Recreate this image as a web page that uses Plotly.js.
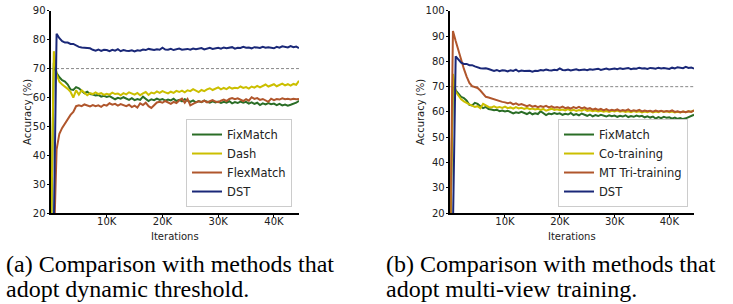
<!DOCTYPE html>
<html>
<head>
<meta charset="utf-8">
<script src="https://cdn.plot.ly/plotly-3.0.1.min.js"></script>
<style>
  html, body { margin: 0; padding: 0; background: #fff; }
  #chart { width: 733px; height: 304px; }
</style>
</head>
<body>
<div id="chart"></div>
<script>
// ---- data ----
const iterations = [0,500,1000,1500,2000,2500,3000,3500,4000,4500,5000,5500,6000,6500,7000,7500,8000,8500,9000,9500,
  10000,10500,11000,11500,12000,12500,13000,13500,14000,14500,15000,15500,16000,16500,17000,17500,18000,18500,19000,19500,
  20000,20500,21000,21500,22000,22500,23000,23500,24000,24500,25000,25500,26000,26500,27000,27500,28000,28500,29000,29500,
  30000,30500,31000,31500,32000,32500,33000,33500,34000,34500,35000,35500,36000,36500,37000,37500,38000,38500,39000,39500,
  40000,40500,41000,41500,42000,42500,43000,43500,44000,44500];

const fixmatch = [10,72,68.5,67,66,65.5,64.5,62.8,62.6,63.6,63.2,62.3,61.5,62,61.2,61,60.7,60.9,60.3,60.6,
  60.2,60.5,59.8,59.4,59.9,59.6,60.1,59.7,59.2,59.8,59.1,59.5,59.2,60.3,59.6,58.8,59.4,59.1,59.6,59.2,
  59.5,58.9,59.3,59,59.6,58.8,59.2,58.7,59.4,58.9,58.5,59,58.3,58.8,58.4,58.9,58.6,58.2,58.7,58.3,
  58.6,58.1,58.5,58.2,58.7,58,58.4,58.1,58.6,58.2,58.5,57.9,58.3,57.8,58.2,57.4,58,57.6,58.1,57.7,
  57.9,57.4,57.8,57.3,57.6,57.2,57.5,57.9,58.2,58.9];

const dash = [10,76,68,65.5,64.5,63.8,63,62,60,62.5,61,62.5,61.5,60.8,61.5,61.2,61.8,61.2,61.5,60.9,
  61.3,61,61.7,61.2,61.4,60.8,61.5,61.1,61.8,61.3,61,61.6,60.8,61.4,61.9,60.9,61.7,61.4,62.1,61.6,
  62.2,61.8,61.4,62,61.6,62.3,61.9,62.4,61.8,62.5,62.2,62.9,62.3,61.9,62.6,62.2,62.8,63.2,62.6,63,
  63.5,62.8,63.3,62.9,63.6,63.1,63.4,63.2,63.8,63.3,63.6,63.1,63.8,63.4,64,63.5,63.9,64.5,63.8,64.2,
  64.6,63.9,64.3,64.8,64.2,64.6,64.1,64.7,64.4,65.8];

const flexmatch = [5,8,42,47.5,49.5,51,52.5,54,55,57,57.3,57,57.6,57.2,56.9,57.4,57,57.3,56.8,57.5,
  57.2,58,57.5,57.8,57.2,57.7,57.3,57,57.5,56.7,57.2,56.5,58,57.4,58.2,57,56.4,57.5,58.3,58.5,
  58.2,58.8,58.4,57.8,58.5,58.1,59,59.6,58.2,59.5,57.3,57.9,58.3,58.7,58.5,58.9,58.3,58.7,59.1,58.6,
  58.4,58.9,59.3,58.8,59.5,59.8,59.4,59.7,59.2,58.8,59.4,58.9,60.1,59.5,59.8,59.2,59.5,58.9,58.5,59.6,
  59.1,59.5,59.3,59.7,59.4,59.6,59.3,59.6,59.4,59.5];

const dst = [5,15,82,80.5,79.5,79,79,78.5,78.5,78,77.5,77.3,77.2,77.3,77,76.5,76.2,76.6,76.1,76.5,
  76.4,76,76.5,76.2,76.7,76,76.4,76.2,76.1,76.3,75.9,76.3,76.2,76.6,76.4,76.8,76.5,76.4,76.7,76.5,
  77.2,76.6,76.5,76.8,76.4,76.7,76.9,76.5,76.6,76.8,76.5,76.9,76.7,76.8,77.1,76.6,76.9,77.2,76.8,77,
  77.2,76.9,77.3,77,77.1,77.4,76.9,77.2,77.1,77.5,77.2,77.3,77,77.4,77.3,77.1,77.5,77.2,77.4,77.3,
  77,77.5,77.2,77.7,77.4,77.3,77.8,77.4,77.6,77.1];

const cotraining = [10,75,68,66.5,65,64.2,63.5,63,62.5,62,62.3,61.5,63.2,62.5,62,61.8,62.2,61.7,62,61.6,
  62.1,61.5,61.8,61.3,61.9,61.4,61.7,61.2,61.6,61.1,61.4,61,61.3,60.8,61.2,60.5,60.9,61.3,60.8,61.1,
  60.7,61,60.6,61.1,60.5,60.9,60.4,60.8,60.5,61,60.4,60.7,60.3,60.6,60.2,60.5,60.1,60.4,60,60.5,
  60.2,60.6,60.1,60.4,60,60.3,59.9,60.4,60,60.3,59.8,60.2,59.9,60.3,59.8,60.2,59.9,60.4,60,60.3,
  59.9,60.2,59.8,60.1,59.8,60.2,59.9,60.3,60.1,60.6];

const mttri = [10,92,88,84,80,77,74,71.5,70.2,69.8,69.5,68.5,67,66,65.7,65.3,65,64.6,64.2,64,
  63.8,63.5,63.7,63,63.4,62.8,63.1,62.6,62.3,62.7,62.1,62.4,61.9,62.3,62,62.4,61.8,62.2,61.7,62,
  61.6,62.1,61.5,61.8,61.3,61.9,61.5,62,61.4,61.8,61.2,61.5,60.9,61.3,60.8,61.2,60.6,61.1,60.5,60.9,
  60.6,61,60.4,60.8,60.5,61,60.3,60.7,60.4,60.8,60.2,60.6,60.3,60.5,60.1,60.6,60.2,60.5,60.1,60.4,
  60.2,60.6,60,60.3,59.9,60.2,59.9,60.3,60,60.6];

const threshold = 70;
const xTickVals = [10000, 20000, 30000, 40000];
const xTickText = ['10K', '20K', '30K', '40K'];
const yTicksLeft = [20, 30, 40, 50, 60, 70, 80, 90];
const yTicksRight = [20, 30, 40, 50, 60, 70, 80, 90, 100];
const xTitle = 'Iterations';
const yTitle = 'Accuracy (%)';
const captionA = ['(a) Comparison with methods that', 'adopt dynamic threshold.'];
const captionB = ['(b) Comparison with methods that', 'adopt multi-view training.'];

// ---- styles ----
const C = { green: '#2a6d26', yellow: '#cbbf00', brown: '#b0562c', navy: '#1a2878' };
const LW = 2;
const tickFont = { family: 'DejaVu Sans', size: 10, color: '#222' };

function tr(y, name, color, xa, ya, leg) {
  return { x: iterations, y: y, name: name, type: 'scatter', mode: 'lines',
    line: { color: color, width: LW }, xaxis: xa, yaxis: ya, legend: leg };
}

const data = [
  tr(fixmatch, 'FixMatch', C.green, 'x', 'y', 'legend'),
  tr(dash, 'Dash', C.yellow, 'x', 'y', 'legend'),
  tr(flexmatch, 'FlexMatch', C.brown, 'x', 'y', 'legend'),
  tr(dst, 'DST', C.navy, 'x', 'y', 'legend'),
  tr(fixmatch, 'FixMatch', C.green, 'x2', 'y2', 'legend2'),
  tr(cotraining, 'Co-training', C.yellow, 'x2', 'y2', 'legend2'),
  tr(mttri, 'MT Tri-training', C.brown, 'x2', 'y2', 'legend2'),
  tr(dst, 'DST', C.navy, 'x2', 'y2', 'legend2')
];

function xax(domain, anchor) {
  return { domain: domain, anchor: anchor, range: [0, 44500], showgrid: false, zeroline: false,
    showline: true, linewidth: 2, linecolor: '#000', ticks: 'outside', ticklen: 2.5, tickwidth: 1,
    tickcolor: '#000', tickvals: xTickVals, ticktext: xTickText, tickfont: tickFont,
    ticklabelstandoff: -5 };
}
function yax(domain, anchor, range, tv) {
  return { domain: domain, anchor: anchor, range: range, showgrid: false, zeroline: false,
    showline: true, linewidth: 2, linecolor: '#000', ticks: 'outside', ticklen: 2.5, tickwidth: 1,
    tickcolor: '#000', tickvals: tv, tickfont: tickFont, ticklabelstandoff: -1 };
}
function legend(xr) {
  return { x: xr, y: 0.319, xanchor: 'right', yanchor: 'bottom', bgcolor: '#fff',
    bordercolor: '#ccc', borderwidth: 1, font: { family: 'DejaVu Sans', size: 11.5, color: '#222' },
    tracegroupgap: 0 };
}

const capFont = { family: 'Liberation Serif', size: 24, color: '#000' };
function cap(txt, xpx, ypx) {
  return { text: txt, xref: 'paper', yref: 'paper', x: xpx / 733, y: 1 - ypx / 304,
    xanchor: 'left', yanchor: 'middle', showarrow: false, font: capFont };
}
function axTitle(txt, xpx, ypx, angle) {
  return { text: txt, xref: 'paper', yref: 'paper', x: xpx / 733, y: 1 - ypx / 304,
    xanchor: 'center', yanchor: 'middle', showarrow: false, textangle: angle, font: tickFont };
}

const layout = {
  width: 733, height: 304,
  margin: { l: 0, r: 0, t: 0, b: 0 },
  paper_bgcolor: '#fff', plot_bgcolor: '#fff',
  showlegend: true,
  xaxis: xax([0.0696, 0.4079], 'y'),
  yaxis: yax([0.2984, 0.9648], 'x', [20, 90], yTicksLeft),
  xaxis2: xax([0.6142, 0.9468], 'y2'),
  yaxis2: yax([0.2984, 0.9648], 'x2', [20, 100], yTicksRight),
  legend: legend(0.3984),
  legend2: legend(0.9386),
  shapes: [
    { type: 'line', xref: 'x', yref: 'y', x0: 0, x1: 44500, y0: threshold, y1: threshold,
      line: { color: '#888', width: 1, dash: '3px,2px' }, layer: 'below' },
    { type: 'line', xref: 'x2', yref: 'y2', x0: 0, x1: 44500, y0: threshold, y1: threshold,
      line: { color: '#888', width: 1, dash: '3px,2px' }, layer: 'below' }
  ],
  annotations: [
    axTitle(yTitle, 27, 112, -90), axTitle(xTitle, 175, 236, 0),
    axTitle(yTitle, 420, 112, -90), axTitle(xTitle, 572, 236, 0),
    cap(captionA[0], 4, 264), cap(captionA[1], 4, 289),
    cap(captionB[0], 384, 264), cap(captionB[1], 384, 289)
  ]
};

Plotly.newPlot('chart', data, layout, { displayModeBar: false, staticPlot: true });
</script>
</body>
</html>
